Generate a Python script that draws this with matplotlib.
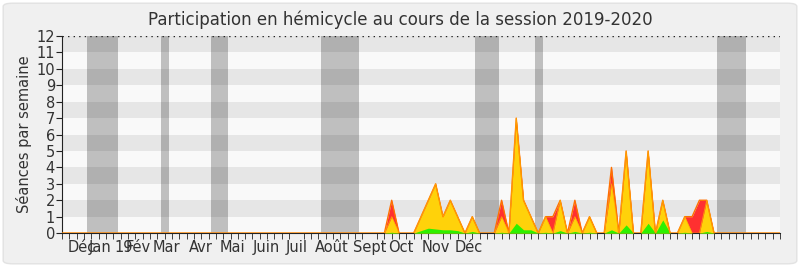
import matplotlib
matplotlib.use("Agg")
import matplotlib.pyplot as plt
from matplotlib.patches import FancyBboxPatch
import numpy as np

# ---- data (weekly values, week index 0..98) ----
n_weeks = 99
weeks = np.arange(n_weeks)

red_weeks = [45, 49, 50, 51, 52, 53, 54, 56, 60, 62, 63, 64, 66, 67, 68, 70, 72, 75, 77, 80, 82, 85, 86, 87, 88]
red_vals = [2, 1, 2, 3, 1, 2, 1, 1, 2, 7, 2, 1, 1, 1, 2, 2, 1, 4, 5, 5, 2, 1, 1, 2, 2]

yellow_weeks = [45, 49, 50, 51, 52, 53, 54, 56, 60, 62, 63, 64, 66, 68, 70, 72, 75, 77, 80, 82, 85, 88]
yellow_vals = [1, 1, 2, 3, 1, 2, 1, 1, 1, 7, 2, 1, 1, 2, 1, 1, 3, 5, 5, 2, 1, 2]

green_weeks = [45, 49, 50, 51, 52, 53, 54, 56, 60, 62, 63, 64, 66, 68, 70, 72, 75, 77, 80, 82, 85, 88]
green_vals = [0.05, 0.15, 0.3, 0.25, 0.2, 0.2, 0.15, 0.1, 0.05, 0.6, 0.2, 0.2, 0.05, 0.15, 0.1, 0.05, 0.2, 0.5, 0.6, 0.8, 0.05, 0.1]

# holiday bands (start week, end week)
holidays = [(3.4, 7.6), (13.5, 14.6), (20.4, 22.6), (35.4, 40.6), (56.4, 59.6), (64.5, 65.6), (89.4, 93.4)]

month_labels = ["Déc", "Jan", "19", "Fév", "Mar", "Avr", "Mai", "Juin", "Juil", "Août", "Sept", "Oct", "Nov", "Déc"]
month_pos = [2.7, 5.2, 8.4, 10.4, 14.2, 18.9, 23.3, 27.9, 32.0, 36.8, 42.0, 46.2, 51.0, 55.5]

title = "Participation en hémicycle au cours de la session 2019-2020"
ylabel = "Séances par semaine"


def expand(idx, vals):
    arr = np.zeros(n_weeks)
    arr[idx] = vals
    return arr


red = expand(red_weeks, red_vals)
yellow = expand(yellow_weeks, yellow_vals)
green = expand(green_weeks, green_vals)

fig = plt.figure(figsize=(8.0, 2.67), dpi=100)
fig.patch.set_facecolor("#ffffff")
bg = FancyBboxPatch((0.004, 0.012), 0.992, 0.976, boxstyle="round,pad=0,rounding_size=0.012",
                    transform=fig.transFigure, facecolor="#f0f0f0", edgecolor="#e2e2e2", lw=1.0,
                    zorder=-10)
fig.patches.append(bg)

ax = fig.add_axes([0.0775, 0.127, 0.8975, 0.738])
ax.set_zorder(5)
ax.set_facecolor("#f9f9f9")
ax.set_xlim(0, n_weeks - 1)
ax.set_ylim(0, 12)

for k in range(1, 12, 2):
    ax.axhspan(k, k + 1, color="#e6e6e6", lw=0, zorder=0)

for a, b in holidays:
    ax.axvspan(a, b, color="#000000", alpha=0.23, lw=0, zorder=1)

ax.fill_between(weeks, 0, red, color="#ff3030", lw=0, zorder=2)
ax.fill_between(weeks, 0, yellow, color="#ffd20a", lw=0, zorder=3)
ax.fill_between(weeks, 0, green, color="#2ef000", lw=0, zorder=4)
ax.plot(weeks, red, color="#ff7000", lw=1.0, zorder=5)
ax.plot(weeks, yellow, color="#ffb000", lw=0.6, zorder=5, alpha=0.8)

ax.axhline(12, color="#222222", ls=(0, (1, 3)), lw=1.0, zorder=6)

for s in ["top", "right"]:
    ax.spines[s].set_visible(False)
ax.spines["left"].set_color("#222222")
ax.spines["bottom"].set_color("#222222")

ax.set_yticks(range(0, 13))
ax.tick_params(axis="y", labelsize=10.5, length=4, color="#222222", labelcolor="#333333", pad=1)
ax.set_xticks(weeks, minor=True)
ax.set_xticks(month_pos)
ax.set_xticklabels(month_labels)
ax.tick_params(axis="x", which="major", length=0, labelsize=10.5, labelcolor="#333333", pad=5)
ax.tick_params(axis="x", which="minor", length=4, color="#222222")

ax.set_ylabel(ylabel, fontsize=10.5, color="#333333", labelpad=3)
fig.text(0.5, 0.925, title, ha="center", va="center", fontsize=12, color="#333333")

fig.savefig("out.png", dpi=100, facecolor=fig.get_facecolor())
